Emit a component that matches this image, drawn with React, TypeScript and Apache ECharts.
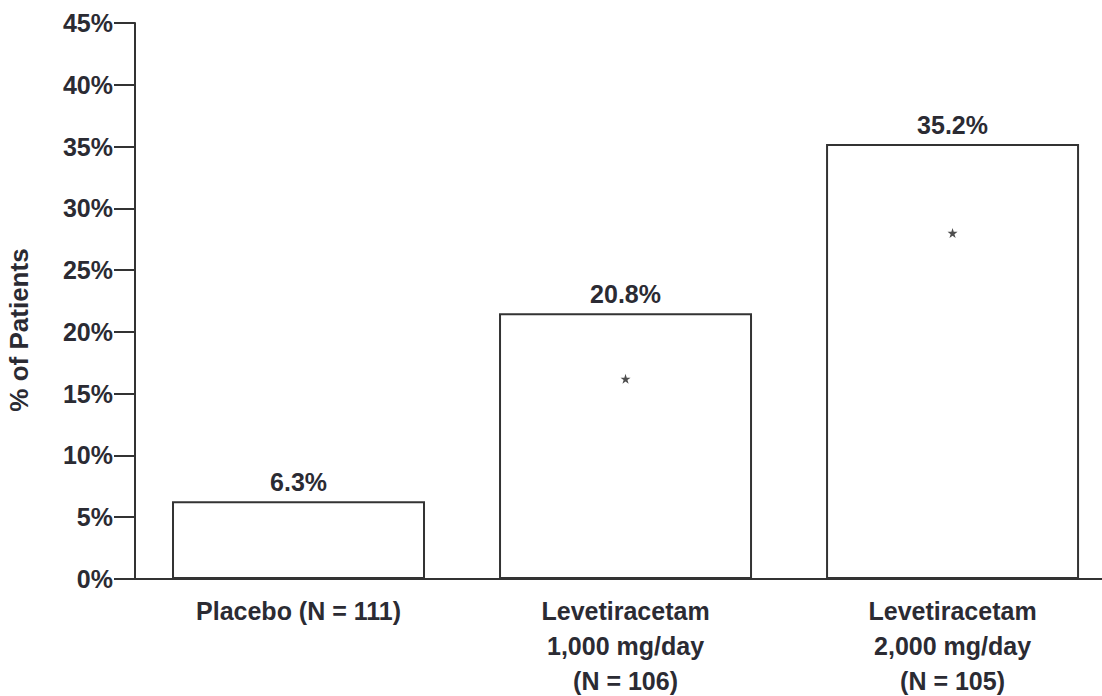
import React, { useEffect, useRef } from "react";
import * as echarts from "echarts";

const categories = ["Placebo (N = 111)", "Levetiracetam\n1,000 mg/day\n(N = 106)", "Levetiracetam\n2,000 mg/day\n(N = 105)"];
const barHeights = [6.3, 21.5, 35.2];
const valueLabels = ["6.3%", "20.8%", "35.2%"];
const markerY: (number | null)[] = [null, 16.2, 28.0];
const yTicks = [0, 5, 10, 15, 20, 25, 30, 35, 40, 45];

const FONT = "'Liberation Sans', Arial, sans-serif";
const TEXT = "#2b2b33";
const LINE = "#333333";
const STAR = "path://M50,0 L61.8,35.5 L100,35.5 L69.1,57.5 L80.9,93 L50,71 L19.1,93 L30.9,57.5 L0,35.5 L38.2,35.5 Z";

export default function App() {
  const ref = useRef<HTMLDivElement>(null);
  useEffect(() => {
    if (!ref.current) return;
    const chart = echarts.init(ref.current, null, { renderer: "svg" });
    const catIdx = categories.map((_, i) => i);
    chart.setOption({
      animation: false,
      backgroundColor: "#ffffff",
      grid: { left: 135, top: 23, right: 0, height: 556, containLabel: false, outerBoundsMode: "none" },
      xAxis: {
        type: "value",
        min: -0.5,
        max: 2.457,
        splitLine: { show: false },
        axisLine: { show: true, onZero: false, lineStyle: { color: LINE, width: 2 } },
        axisTick: { show: false },
        axisLabel: {
          customValues: catIdx,
          formatter: (v: number) => categories[Math.round(v)] ?? "",
          margin: 14,
          color: TEXT,
          fontFamily: FONT,
          fontWeight: "bold",
          fontSize: 25,
          lineHeight: 35,
          showMinLabel: true,
          showMaxLabel: true,
        },
      },
      yAxis: {
        type: "value",
        min: yTicks[0],
        max: yTicks[yTicks.length - 1],
        interval: 5,
        splitLine: { show: false },
        axisLine: { show: true, onZero: false, lineStyle: { color: LINE, width: 2 } },
        axisTick: { show: true, inside: false, length: 21, lineStyle: { color: LINE, width: 2 } },
        axisLabel: {
          margin: 22,
          color: TEXT,
          fontFamily: FONT,
          fontWeight: "bold",
          fontSize: 25,
          formatter: (v: number) => `${v}%`,
        },
      },
      graphic: [
        {
          type: "text",
          x: 19,
          y: 330,
          rotation: Math.PI / 2,
          style: {
            text: "% of Patients",
            fill: TEXT,
            font: `bold 26px ${FONT}`,
            textAlign: "center",
            textVerticalAlign: "middle",
          },
        },
      ],
      series: [
        {
          type: "bar",
          data: barHeights.map((v, i) => [i, v]),
          barWidth: 253,
          itemStyle: { color: "#ffffff", borderColor: LINE, borderWidth: 2 },
          label: {
            show: true,
            position: "top",
            distance: 7,
            color: TEXT,
            fontFamily: FONT,
            fontWeight: "bold",
            fontSize: 25,
            formatter: (p: any) => valueLabels[p.dataIndex],
          },
        },
        {
          type: "scatter",
          data: markerY.map((v, i) => (v == null ? null : [i, v])).filter((d) => d != null),
          symbol: STAR,
          symbolSize: 10,
          itemStyle: { color: "#222222" },
          z: 5,
        },
      ],
    });
    return () => chart.dispose();
  }, []);
  return <div ref={ref} style={{ position: "fixed", left: 0, top: 0, width: 1102, height: 696 }} />;
}
